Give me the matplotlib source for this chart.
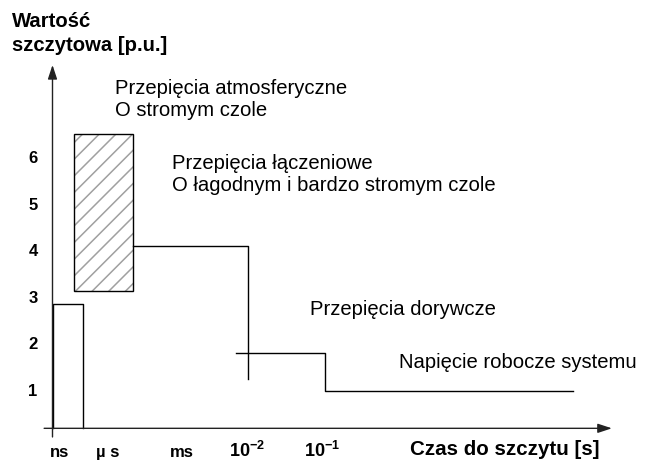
import matplotlib
matplotlib.use('Agg')
import matplotlib.pyplot as plt
from matplotlib.patches import Rectangle

plt.rcParams['font.family'] = ['Liberation Sans', 'DejaVu Sans']
plt.rcParams['mathtext.fontset'] = 'custom'
plt.rcParams['mathtext.rm'] = 'Liberation Sans'
plt.rcParams['mathtext.bf'] = 'Liberation Sans:bold'
plt.rcParams['hatch.linewidth'] = 1.1

# data (x in arbitrary time units, y in p.u.)
y_ticks = [1, 2, 3, 4, 5, 6]
x_tick_pos = [0.155, 1.18, 2.78, 4.19, 5.79]
x_tick_labels = ['ns', 'µ s', 'ms', r'$\mathbf{10^{-2}}$', r'$\mathbf{10^{-1}}$']

# ns box (lightning)
ns_x = [0.0, 0.0, 0.65, 0.65]
ns_y = [0.176, 2.85, 2.85, 0.176]

# atmospheric overvoltages - hatched area
atm_x = [0.46, 1.74]
atm_y = [3.12, 6.5]

# switching overvoltages
sw_x = [1.74, 4.2, 4.2]
sw_y = [4.1, 4.1, 1.24]

# temporary overvoltages + operating voltage
tmp_x = [3.94, 5.86, 5.86, 11.2]
tmp_y = [1.79, 1.79, 0.98, 0.98]

fig = plt.figure(figsize=(6.45, 4.61), dpi=100)
ax = fig.add_axes([0, 0, 1, 1])
# data coords ~ pixel layout of the reference
ax.set_xlim(-52.5 / 46.5, (645 - 52.5) / 46.5)
ax.set_ylim((436.5 - 461) / 46.5, 436.5 / 46.5)
ax.axis('off')

# axes with arrows
arrow = dict(arrowstyle='-|>,head_length=0.85,head_width=0.28', color='#222222',
             lw=1.0, shrinkA=0, shrinkB=0)
ax.annotate('', xy=(0, 7.99), xytext=(0, -0.01), arrowprops=arrow)
ax.annotate('', xy=(12.03, 0.176), xytext=(-0.18, 0.176), arrowprops=arrow)

lw = 1.0
ax.plot(ns_x, ns_y, color='black', lw=lw)
ax.add_patch(Rectangle((atm_x[0], atm_y[0]), atm_x[1] - atm_x[0], atm_y[1] - atm_y[0],
                       facecolor='none', edgecolor='#a0a0a0', lw=0, hatch='//'))
ax.add_patch(Rectangle((atm_x[0], atm_y[0]), atm_x[1] - atm_x[0], atm_y[1] - atm_y[0],
                       facecolor='none', edgecolor='black', lw=lw))
ax.plot(sw_x, sw_y, color='black', lw=lw)
ax.plot(tmp_x, tmp_y, color='black', lw=lw)

# tick labels
for v in y_ticks:
    ax.annotate(str(v), (-0.42, v), xytext=(0, -4.2), textcoords='offset points',
                ha='center', va='baseline', fontsize=12, fontweight='bold')
for p, lab in zip(x_tick_pos, x_tick_labels):
    size = 13 if lab.startswith('$') else 12
    ax.text(p, -0.434, lab, ha='center', va='baseline', fontsize=size, fontweight='bold')

# axis titles
ax.text(-0.877, 8.81, 'Wartość', fontsize=14.6, fontweight='bold', va='baseline')
ax.text(-0.877, 8.29, 'szczytowa [p.u.]', fontsize=14.6, fontweight='bold', va='baseline')
ax.text(7.688, -0.398, 'Czas do szczytu [s]', fontsize=14.8, fontweight='bold', va='baseline')

# annotations
fs = 14.6
ax.text(1.344, 7.366, 'Przepięcia atmosferyczne', fontsize=fs, va='baseline')
ax.text(1.344, 6.882, 'O stromym czole', fontsize=fs, va='baseline')
ax.text(2.57, 5.753, 'Przepięcia łączeniowe', fontsize=fs, va='baseline')
ax.text(2.57, 5.269, 'O łagodnym i bardzo stromym czole', fontsize=fs, va='baseline')
ax.text(5.538, 2.613, 'Przepięcia dorywcze', fontsize=fs, va='baseline')
ax.text(7.458, 1.473, 'Napięcie robocze systemu', fontsize=fs, va='baseline')

plt.savefig('out.png', dpi=100)
